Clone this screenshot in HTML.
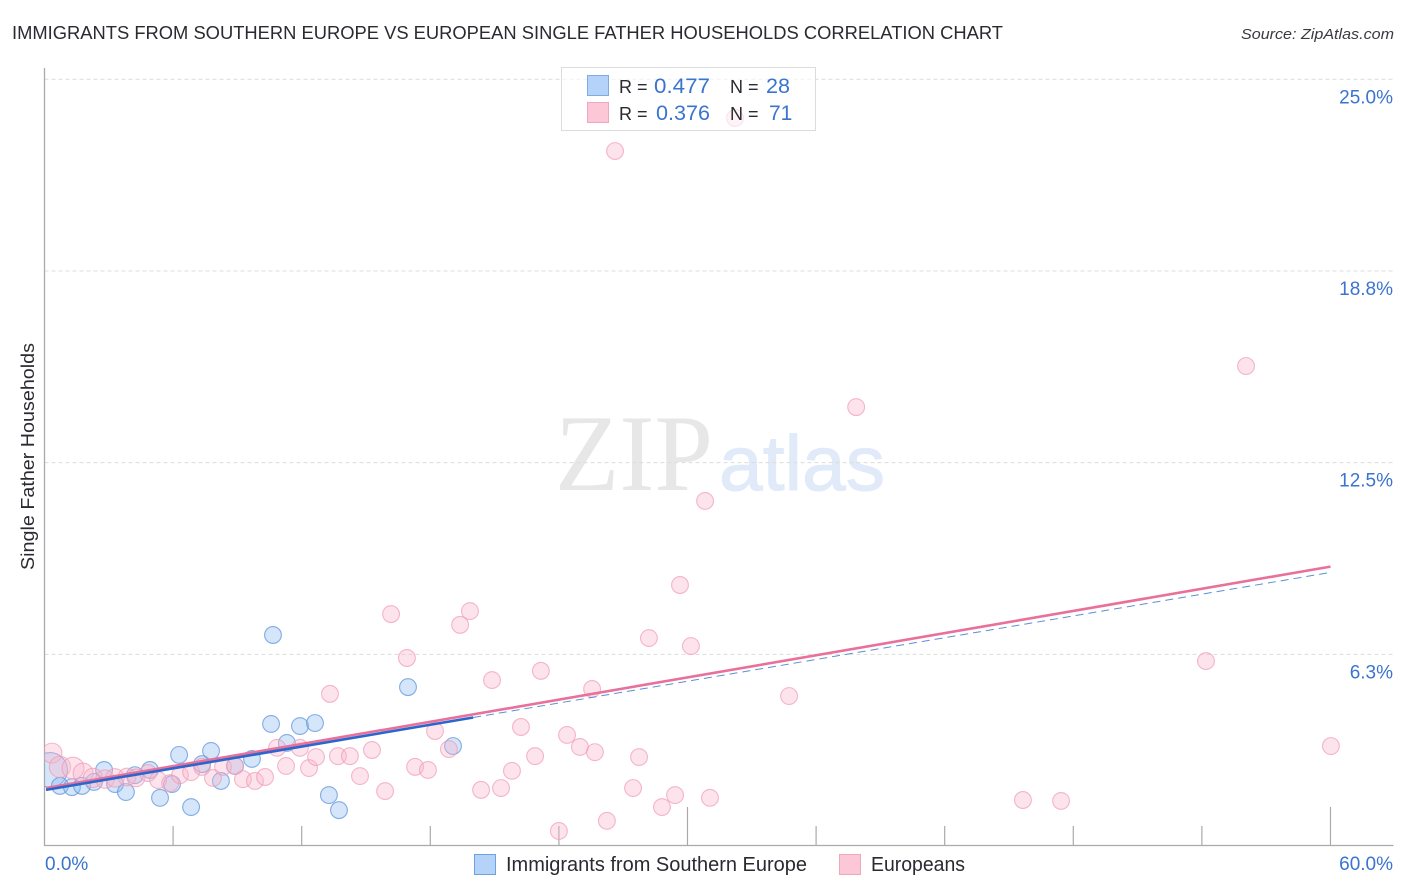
<!DOCTYPE html>
<html lang="en">
<head>
<meta charset="utf-8">
<title>Immigrants from Southern Europe vs European Single Father Households Correlation Chart</title>
<style>
html,body{margin:0;padding:0;background:#fff;width:1406px;height:892px;overflow:hidden}
svg{display:block;font-family:"Liberation Sans",sans-serif}
</style>
</head>
<body>
<svg id="chart" xmlns="http://www.w3.org/2000/svg" width="1406" height="892" viewBox="0 0 1406 892">
  <defs>
    <clipPath id="plot-clip"><rect x="44.5" y="60" width="1350" height="785.5"/></clipPath>
  </defs>
  <text x="12" y="39" font-size="18.5" fill="#2a2a30" textLength="991" lengthAdjust="spacingAndGlyphs">IMMIGRANTS FROM SOUTHERN EUROPE VS EUROPEAN SINGLE FATHER HOUSEHOLDS CORRELATION CHART</text>
  <text x="1241" y="39" font-size="15" font-style="italic" fill="#3a3a40" textLength="153" lengthAdjust="spacingAndGlyphs">Source: ZipAtlas.com</text>
  <g>
    <text x="555" y="490" font-family="'Liberation Serif',serif" font-size="109" fill="#e7e7e7" textLength="158" lengthAdjust="spacingAndGlyphs">ZIP</text>
    <text x="719" y="490" font-size="78" fill="#e0eaf8" stroke="#e0eaf8" stroke-width="1" textLength="166" lengthAdjust="spacingAndGlyphs">atlas</text>
  </g>
  <g id="grid"></g>
  <g id="axes"></g>
  <g clip-path="url(#plot-clip)">
    <g id="blue-points"></g>
    <g id="pink-points"></g>
  </g>
  <g id="trends"></g>
  <g id="labels"></g>
  <text transform="translate(34 456.5) rotate(-90)" text-anchor="middle" font-size="18.5" fill="#2a2a30" textLength="227" lengthAdjust="spacingAndGlyphs">Single Father Households</text>

  <g>
    <rect x="561.5" y="67.5" width="254" height="63" fill="#fff" fill-opacity="0.6" stroke="#dcdcdc" stroke-width="1"/>
    <rect x="587.5" y="75.5" width="21" height="20" fill="#b5d2f8" stroke="#7fabe2" stroke-width="1"/>
    <text x="619" y="93" font-size="18" fill="#2a2a30">R =</text>
    <text x="654" y="93" font-size="21" fill="#3a74cf" textLength="56" lengthAdjust="spacingAndGlyphs">0.477</text>
    <text x="730" y="93" font-size="18" fill="#2a2a30">N =</text>
    <text x="766" y="93" font-size="21" fill="#3a74cf" textLength="24" lengthAdjust="spacingAndGlyphs">28</text>
    <rect x="587.5" y="102.5" width="21" height="20" fill="#fcc8d8" stroke="#f3a5bd" stroke-width="1"/>
    <text x="619" y="120" font-size="18" fill="#2a2a30">R =</text>
    <text x="656" y="120" font-size="21" fill="#3a74cf" textLength="54" lengthAdjust="spacingAndGlyphs">0.376</text>
    <text x="730" y="120" font-size="18" fill="#2a2a30">N =</text>
    <text x="769" y="120" font-size="21" fill="#3a74cf">71</text>
  </g>

  <g>
    <rect x="474.5" y="854.5" width="21" height="20" fill="#b5d2f8" stroke="#6fa0e0" stroke-width="1"/>
    <text x="506" y="871" font-size="20" fill="#2a2a30" textLength="301" lengthAdjust="spacingAndGlyphs">Immigrants from Southern Europe</text>
    <rect x="839.5" y="854.5" width="21" height="20" fill="#fcc8d8" stroke="#f3a5bd" stroke-width="1"/>
    <text x="871" y="871" font-size="20" fill="#2a2a30" textLength="94" lengthAdjust="spacingAndGlyphs">Europeans</text>
  </g>
</svg>
<script>
const blueX = [0.26,0.72,1.28,1.75,2.31,2.78,3.29,3.80,4.22,4.92,5.39,5.95,6.28,6.84,7.35,7.77,8.23,8.89,9.68,10.57,11.31,11.92,12.62,13.27,13.74,10.66,16.96,19.06];
const blueY = [2.48,1.96,1.92,1.96,2.09,2.48,2.02,1.76,2.31,2.48,1.57,2.02,2.97,1.27,2.67,3.10,2.12,2.61,2.84,3.98,3.36,3.91,4.01,1.66,1.17,6.88,5.18,3.26];
const blueWeight = [4.3,1,1,1,1,1,1,1,1,1,1,1,1,1,1,1,1,1,1,1,1,1,1,1,1,1,1,1];

const pinkX = [0.35,0.72,1.33,1.80,2.26,2.82,3.29,3.85,4.27,4.83,5.30,5.86,6.32,6.84,7.35,7.86,8.33,8.89,9.26,9.82,10.29,10.85,11.27,11.92,12.34,12.67,13.69,14.25,14.72,13.32,15.28,15.89,17.29,17.89,18.22,18.87,20.88,22.23,21.81,22.89,20.37,21.30,24.00,24.38,24.98,25.68,25.55,26.24,27.46,27.74,28.81,29.42,31.05,34.74,30.16,28.20,29.65,30.82,37.87,56.06,54.19,60.02,45.65,47.43,26.62,32.22,23.16,16.91,16.17,19.85,19.39];
const pinkY = [3.03,2.58,2.54,2.38,2.22,2.18,2.22,2.25,2.22,2.38,2.15,2.05,2.31,2.41,2.58,2.22,2.58,2.61,2.18,2.12,2.25,3.20,2.61,3.20,2.54,2.90,2.93,2.93,2.28,4.96,3.13,1.79,2.58,2.48,3.75,3.16,5.41,3.88,2.45,2.93,1.83,1.89,0.49,3.62,3.23,3.06,5.12,0.82,1.89,2.90,1.27,1.66,1.57,4.89,6.52,6.78,8.51,11.25,14.31,15.65,6.03,3.26,1.50,1.47,22.66,23.74,5.71,6.13,7.56,7.66,7.21];
const pinkWeight = [1.4,1.6,1.7,1.4,1.3,1.2,1.2,1.1,1.1,1,1,1,1,1,1,1,1,1,1,1,1,1,1,1,1,1,1,1,1,1,1,1,1,1,1,1,1,1,1,1,1,1,1,1,1,1,1,1,1,1,1,1,1,1,1,1,1,1,1,1,1,1,1,1,1,1,1,1,1,1,1];

const yTickValues = [25, 18.75, 12.5, 6.25];
const yTickLabels = ["25.0%", "18.8%", "12.5%", "6.3%"];
const xTickValues = [0, 6, 12, 18, 24, 30, 36, 42, 48, 54, 60];
const xMajorTicks = [30, 60];
const xEndLabels = ["0.0%", "60.0%"];

const pinkTrendX = [0, 60];
const pinkTrendY = [1.89, 9.11];
const blueTrendX = [0, 20];
const blueTrendY = [1.83, 4.19];
const blueDashX = [20, 60];
const blueDashY = [4.19, 8.92];

const NS = 'http://www.w3.org/2000/svg';
function xScale(v) { return 44.5 + v * 21.433; }
function yScale(v) { return 846 - v * 30.67; }
function make(tag, attrs, parent) {
  const el = document.createElementNS(NS, tag);
  for (const k in attrs) el.setAttribute(k, attrs[k]);
  parent.appendChild(el);
  return el;
}

const gridG = document.getElementById('grid');
const axesG = document.getElementById('axes');
const labelsG = document.getElementById('labels');
const blueG = document.getElementById('blue-points');
const pinkG = document.getElementById('pink-points');
const trendsG = document.getElementById('trends');

yTickValues.forEach(function (v, i) {
  const line = make('line', {x1: 44.5, x2: 1393, y1: yScale(v), y2: yScale(v), stroke: '#dcdcdc', 'stroke-width': 1, 'stroke-dasharray': '4 3'}, gridG);
  
  
  const t = make('text', {x: 1393, y: yScale(v) + 24, 'text-anchor': 'end', 'font-size': 19, fill: '#3a74cf'}, labelsG);
  t.textContent = yTickLabels[i];
  
  
});

const yAxis = make('line', {x1: 44.5, x2: 44.5, y1: 68, y2: 845.5, stroke: '#aaaaaa', 'stroke-width': 1.3}, axesG);


const xAxis = make('line', {x1: 44, x2: 1393.5, y1: 845.5, y2: 845.5, stroke: '#aaaaaa', 'stroke-width': 1.3}, axesG);



xTickValues.forEach(function (v) {
  if (v === 0) return;
  const top = xMajorTicks.indexOf(v) >= 0 ? 807 : 826;
  const tick = make('line', {x1: xScale(v), x2: xScale(v), y1: top, y2: 845.5, stroke: '#aaaaaa', 'stroke-width': 1.2}, axesG);
  
  
});

const xLabelLeft = make('text', {x: 45, y: 870, 'font-size': 19, fill: '#3a74cf'}, labelsG);
xLabelLeft.textContent = xEndLabels[0];


const xLabelRight = make('text', {x: 1393, y: 870, 'text-anchor': 'end', 'font-size': 19, fill: '#3a74cf'}, labelsG);
xLabelRight.textContent = xEndLabels[1];



blueX.forEach(function (v, i) {
  const c = make('circle', {cx: xScale(v), cy: yScale(blueY[i]), r: 8.4 * Math.sqrt(blueWeight[i]), fill: '#8ab6f0', 'fill-opacity': 0.36, stroke: '#5f96dc', 'stroke-opacity': 0.75, 'stroke-width': 1.1}, blueG);
  
  
});

pinkX.forEach(function (v, i) {
  const c = make('circle', {cx: xScale(v), cy: yScale(pinkY[i]), r: 8.4 * Math.sqrt(pinkWeight[i]), fill: '#f9b4ca', 'fill-opacity': 0.36, stroke: '#f09ab5', 'stroke-opacity': 0.7, 'stroke-width': 1.1}, pinkG);
  
  
});

const blueDash = make('line', {x1: xScale(blueDashX[0]), y1: yScale(blueDashY[0]), x2: xScale(blueDashX[1]), y2: yScale(blueDashY[1]), stroke: '#5b8fd6', 'stroke-width': 1, 'stroke-dasharray': '8 5'}, trendsG);


const pinkTrend = make('line', {x1: xScale(pinkTrendX[0]) + 1.5, y1: yScale(pinkTrendY[0]), x2: xScale(pinkTrendX[1]), y2: yScale(pinkTrendY[1]), stroke: '#e8709a', 'stroke-width': 2.6}, trendsG);


const blueTrend = make('line', {x1: xScale(blueTrendX[0]) + 1.5, y1: yScale(blueTrendY[0]), x2: xScale(blueTrendX[1]), y2: yScale(blueTrendY[1]), stroke: '#2a66cc', 'stroke-width': 2.6}, trendsG);


</script>
</body>
</html>
